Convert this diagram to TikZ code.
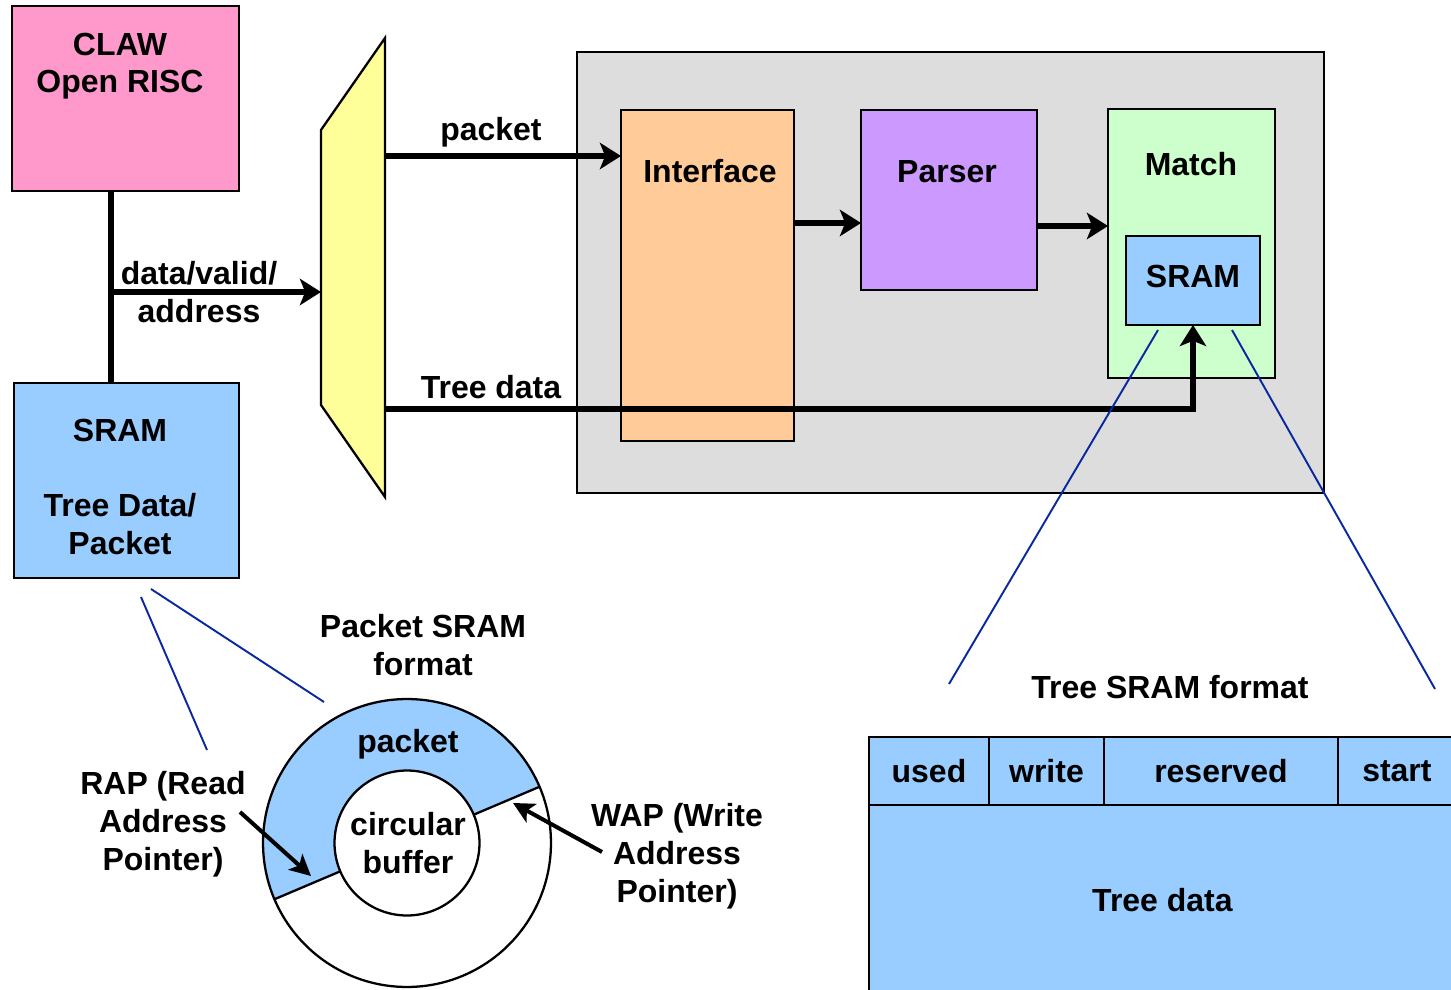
\documentclass[tikz,border=0pt]{standalone}
\usepackage{fontspec}
\setmainfont{Liberation Sans}
\usetikzlibrary{arrows.meta,positioning,calc}
\definecolor{clawpink}{HTML}{FF99CC}
\definecolor{sramblue}{HTML}{99CCFF}
\definecolor{sheetgray}{HTML}{DDDDDD}
\definecolor{ifaceorange}{HTML}{FFCC99}
\definecolor{parserpurple}{HTML}{CC99FF}
\definecolor{matchgreen}{HTML}{CCFFCC}
\definecolor{muxyellow}{HTML}{FFFF99}
\definecolor{zoomblue}{RGB}{10,40,160}
\tikzset{
  blk/.style={draw, line width=1.3pt, inner sep=0pt, outer sep=0pt, anchor=north west},
  txt/.style={font=\fontsize{18.2}{21.4}\selectfont\bfseries, align=center, anchor=base, inner sep=0pt},
  bus/.style={line width=3.3pt, -{Stealth[length=12pt,width=15pt,inset=3pt]}},
  ptr/.style={line width=2.3pt, -{Stealth[length=12pt,width=12pt,inset=3pt]}},
  zoomline/.style={zoomblue, line width=1.1pt},
  cell/.style={draw, line width=1.5pt, fill=sramblue, inner sep=0pt, outer sep=0pt,
    minimum height=1.36cm, font=\fontsize{18.2}{21.4}\selectfont\bfseries}
}
\begin{document}
\begin{tikzpicture}[x=0.02cm, y=-0.02cm]
\useasboundingbox (0,0) rectangle (1451,990);

%Gray sheet with the pipeline
\node [blk, fill=sheetgray, minimum width=14.94cm, minimum height=8.82cm] (sheet) at (577,52) {};
\node [blk, fill=ifaceorange, minimum width=3.46cm, minimum height=6.62cm] (iface) at (621,110) {};
\node [blk, fill=parserpurple, minimum width=3.52cm, minimum height=3.60cm] (parser) at (861,110) {};
\node [blk, fill=matchgreen, minimum width=3.34cm, minimum height=5.38cm] (match) at (1108,109) {};
\node [blk, fill=sramblue, minimum width=2.68cm, minimum height=1.78cm] (msram) at (1126,236) {};
\node [txt] (ifacetxt) at (710,182) {Interface};
\node [txt] (parsertxt) at (947,182) {Parser};
\node [txt] (matchtxt) at (1191,175) {Match};
\node [txt] (msramtxt) at (1193,287) {SRAM};

%CLAW and its SRAM
\node [blk, fill=clawpink, minimum width=4.54cm, minimum height=3.70cm] (claw) at (12,6) {};
\node [blk, fill=sramblue, minimum width=4.50cm, minimum height=3.90cm] (lsram) at (14,383) {};
\node [txt] (clawtxt) at (120,93) {CLAW\\Open RISC};
\node [txt] (lsramtxt) at (120,554) {SRAM\\[21.4pt]Tree Data/\\Packet};

%Mux
\draw [line width=1.3pt, fill=muxyellow] (321,130) -- (385,38) -- (385,497) -- (321,405) -- cycle;
\coordinate (muxin) at (321,292);
\coordinate (muxpkt) at (385,156);
\coordinate (muxtree) at (385,409);
\coordinate (spine) at (111,292);

%Buses
\draw [line width=3.5pt] (111,0 |- claw.south) to (111,0 |- lsram.north);
\draw [bus] (spine) to (muxin);
\draw [bus] (muxpkt) to (muxpkt -| iface.west);
\draw [bus] (iface.east |- 0,223) to (parser.west |- 0,223);
\draw [bus] (parser.east |- 0,226) to (match.west |- 0,226);
\draw [bus] (muxtree) -- (msram.south |- muxtree) -- (msram.south);
\node [txt] (dvatxt) at (199,322) {data/valid/\\address};
\node [txt] (pkttxt) at (491,141) {packet};
\node [txt] (treetxt) at (491,398) {Tree data};

%Zoom lines
\draw [zoomline] (1158,330) to (949,684);
\draw [zoomline] (1232,330) to (1435,689);
\draw [zoomline] (141,597) to (207,750);
\draw [zoomline] (151,589) to (324,702);

%Packet SRAM format
\node [txt] (pfmt) at (423,675) {Packet SRAM\\format};
\node [circle, fill=white, minimum size=5.76cm, inner sep=0pt] (ring) at (407,843) {};
\begin{scope}
\clip ($(ring.center)+(23:6cm)$) -- ($(ring.center)+(203:6cm)$) -- ($(ring.center)+(113:6cm)$) -- cycle;
\fill [sramblue] (ring.center) circle [radius=2.88cm];
\end{scope}
\draw [line width=1.3pt] (ring.center) circle [radius=2.88cm];
\draw [line width=1.3pt] (ring.23) to (ring.203);
\node [circle, draw, line width=1.3pt, fill=white, minimum size=2.9cm, inner sep=0pt] (core) at (ring.center) {};
\node [txt] (ringtxt) at (408,752) {packet};
\node [txt] (coretxt) at (408,873) {circular\\buffer};
\node [txt] (raptxt) at (163,870) {RAP (Read\\Address\\Pointer)};
\node [txt] (waptxt) at (677,902) {WAP (Write\\Address\\Pointer)};
\coordinate (rapfrom) at (240,812);
\coordinate (raptip) at (311,876);
\coordinate (wapfrom) at (602,852);
\coordinate (waptip) at (513,803);
\draw [ptr] (rapfrom) to (raptip);
\draw [ptr] (wapfrom) to (waptip);

%Tree SRAM format
\node [txt] (tfmt) at (1170,698) {Tree SRAM format};
\node [cell, minimum width=2.40cm, anchor=north west] (used) at (869,737) {used};
\node [cell, minimum width=2.30cm, right=0pt of used] (write) {write};
\node [cell, minimum width=4.68cm, right=0pt of write] (reserved) {reserved};
\node [cell, minimum width=2.36cm, right=0pt of reserved] (start) {start};
\node [cell, minimum width=11.74cm, minimum height=3.80cm, below=0pt of used.south west, anchor=north west] (treebody) {Tree data};
\end{tikzpicture}
\end{document}
